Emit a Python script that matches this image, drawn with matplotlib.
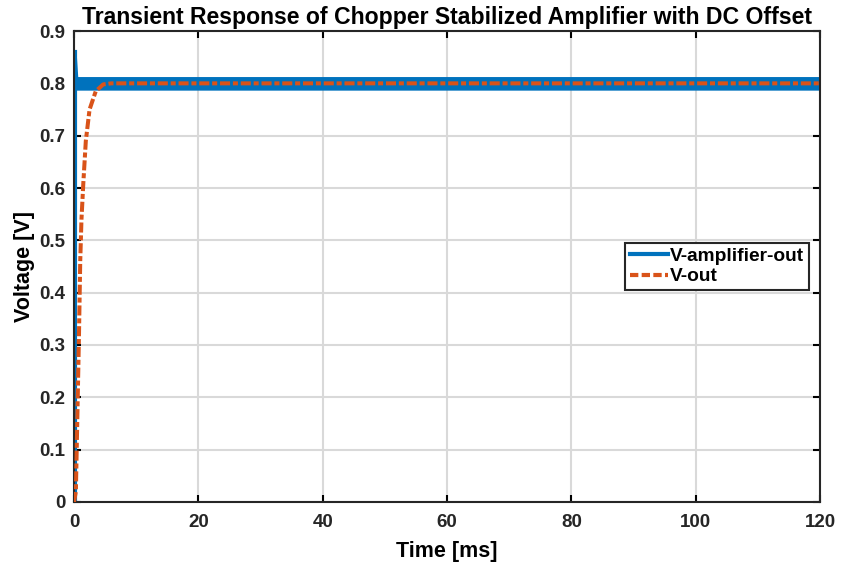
"""Transient response of a chopper stabilized amplifier with DC offset."""

import matplotlib.pyplot as plt
import numpy as np

# amplifier output: envelope of the chopper ripple band (ms, V)
amp_t = [0.0, 0.1, 0.4, 0.6, 120.0]
amp_hi = [0.0, 0.86, 0.85, 0.813, 0.813]
amp_lo = [0.0, 0.0, 0.787, 0.787, 0.787]

# filtered output (ms, V)
out_t = [0.0, 0.3, 0.6, 0.8, 1.0, 1.2, 1.5, 1.9, 2.5, 3.5, 4.7, 6.0, 120.0]
out_v = [0.0, 0.02, 0.2, 0.32, 0.46, 0.54, 0.61, 0.69, 0.75, 0.785, 0.798, 0.8, 0.8]

x_ticks = np.arange(0, 121, 20)
y_ticks = np.arange(0, 0.91, 0.1)


def main():
    plt.rcParams["font.family"] = ["Liberation Sans", "DejaVu Sans"]
    plt.rcParams["font.weight"] = "bold"

    fig = plt.figure(figsize=(8.41, 5.62), dpi=100)
    ax = fig.add_axes([0.088, 0.1068, 0.887, 0.838])

    blue = "#0072BD"
    orange = "#D95319"

    ax.fill_between(amp_t, amp_lo, amp_hi, color=blue, lw=0, zorder=2)
    ax.plot([0.1, 0.1], [0.0, 0.86], color=blue, lw=3, zorder=2)
    ax.plot(out_t, out_v, color=orange, lw=2.9, ls=(0, (2.5, 0.7, 1.25, 0.7)),
            zorder=3)

    # legend handles
    h1, = ax.plot([], [], color=blue, lw=3, label="V-amplifier-out")
    h2, = ax.plot([], [], color=orange, lw=3, ls=(0, (2.0, 0.8)), label="V-out")

    ax.set_xlim(0, 120)
    ax.set_ylim(0, 0.9)
    ax.set_xticks(x_ticks)
    ax.set_yticks(y_ticks)
    ax.set_yticklabels(["0"] + [f"{v:.1f}" for v in y_ticks[1:]])
    ax.grid(True, color="#D9D9D9", lw=1.5)
    ax.set_axisbelow(True)
    ax.tick_params(direction="in", top=True, right=True, length=5, width=1.5,
                   labelsize=13.5, labelcolor="#262626")
    ax.tick_params(axis="x", pad=9)
    ax.tick_params(axis="y", pad=6)
    for s in ax.spines.values():
        s.set_linewidth(1.5)
        s.set_color("#262626")

    ax.set_title("Transient Response of Chopper Stabilized Amplifier with DC Offset",
                 fontsize=16.6, fontweight="bold", pad=5)
    ax.set_xlabel("Time [ms]", fontsize=15.5, fontweight="bold", labelpad=7)
    ax.set_ylabel("Voltage [V]", fontsize=15.5, fontweight="bold", labelpad=3)

    leg = ax.legend(handles=[h1, h2], loc="center right",
                    bbox_to_anchor=(0.985, 0.5), fancybox=False,
                    edgecolor="#262626", framealpha=1, fontsize=13.8,
                    handlelength=2.0, handletextpad=0.1, borderpad=0.25,
                    labelspacing=0.15, borderaxespad=0)
    leg.get_frame().set_linewidth(1.5)

    fig.savefig("out.png", dpi=100)


if __name__ == "__main__":
    main()
